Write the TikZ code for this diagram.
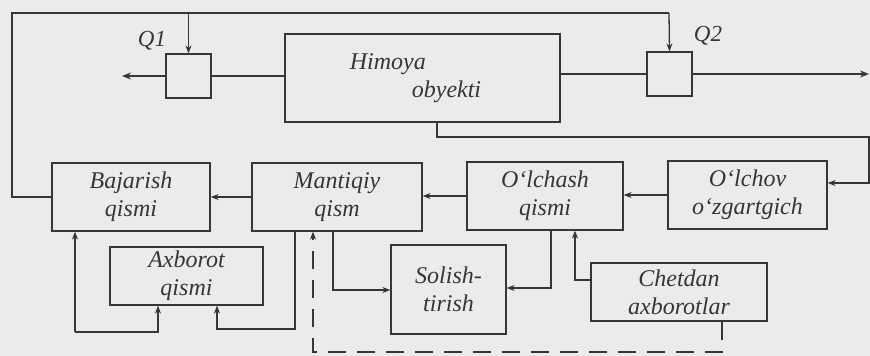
\documentclass[tikz,border=0pt]{standalone}
\usepackage{fontspec}
\setmainfont{Liberation Serif}
\usetikzlibrary{arrows.meta}
\definecolor{ink}{HTML}{363636}
\definecolor{paper}{HTML}{EBEBEB}
\begin{document}
\begin{tikzpicture}[x=1pt,y=-1pt,
  blk/.style={draw=ink,line width=1.2pt,inner sep=0pt,align=center,
    font=\fontsize{24}{28}\selectfont\itshape,text=ink},
  qlabel/.style={inner sep=0pt,font=\fontsize{23}{26}\selectfont\itshape,text=ink},
  ln/.style={draw=ink,line width=1.3pt},
  arr/.style={ln,-{Stealth[length=8pt,width=6pt]}},
  thk/.style={draw=ink,line width=2.4pt},
  thkarr/.style={thk,-{Stealth[length=9pt,width=7pt]}},
  dsh/.style={draw=ink,line width=1.8pt,dash pattern=on 18pt off 11pt},
  dsharr/.style={dsh,-{Stealth[length=8pt,width=6pt]}}]
\fill[paper] (0,0) rectangle (870,356);
\useasboundingbox (0,0) rectangle (870,356);
% boxes
\node[blk,minimum width=45pt,minimum height=44pt] (Q1) at (188.5,76) {};
\node[blk,minimum width=45pt,minimum height=44pt] (Q2) at (669.5,74) {};
\node[blk,minimum width=275pt,minimum height=88pt,align=left] (Him) at (422.5,78)
  {\hspace*{-14pt}Himoya\\\hspace*{48pt}obyekti};
\node[blk,minimum width=158pt,minimum height=68pt] (Baj) at (131,197) {Bajarish\\qismi};
\node[blk,minimum width=170pt,minimum height=68pt] (Man) at (337,197) {Mantiqiy\\qism};
\node[blk,minimum width=156pt,minimum height=68pt] (Olc) at (545,196) {O‘lchash\\qismi};
\node[blk,minimum width=159pt,minimum height=68pt] (Olv) at (747.5,195) {O‘lchov\\o‘zgartgich};
\node[blk,minimum width=153pt,minimum height=58pt] (Axb) at (186.5,276) {Axborot\\qismi};
\node[blk,minimum width=115pt,minimum height=89pt] (Sol) at (448.5,289.5) {Solish-\\tirish};
\node[blk,minimum width=176pt,minimum height=58pt] (Che) at (679,292) {Chetdan\\axborotlar};
% labels
\node[qlabel] (lq1) at (152,41) {Q1};
\node[qlabel] (lq2) at (708,36) {Q2};
% top control line
\coordinate (c1) at (12,13);
\coordinate (c2) at (669,13);
\draw[ln] (Baj.west) -| (c1) -- (c2);
\draw[arr] (c2) -- (Q2.north);
\draw[arr] (Q1.north |- c1) -- (Q1.north);
% main power line
\coordinate (out1) at (122,76);
\coordinate (out2) at (869,74);
\draw[thkarr] (Q1.west) -- (out1);
\draw[thk] (Q1.east) -- (Q1.east -| Him.west);
\draw[thk] (Q2.west -| Him.east) -- (Q2.west);
\draw[thkarr] (Q2.east) -- (out2);
% feedback from object
\coordinate (f1) at (437,137);
\coordinate (f2) at (869,137);
\draw[arr] (f1 |- Him.south) -- (f1) -- (f2) |- ([yshift=12pt]Olv.east);
% row arrows
\draw[arr] (Olv.west) -- (Olv.west -| Olc.east);
\draw[arr] (Olc.west) -- (Olc.west -| Man.east);
\draw[arr] (Man.west) -- (Man.west -| Baj.east);
% bottom links
\coordinate (b1) at (75,332);
\coordinate (b2) at (158,332);
\draw[arr] (b1) -- (b1 |- Baj.south);
\draw[arr] (b1) -- (b2) -- (b2 |- Axb.south);
\coordinate (m1) at (295,329);
\coordinate (m2) at (217,329);
\draw[arr] (m1 |- Man.south) -- (m1) -- (m2) -- (m2 |- Axb.south);
\coordinate (s1) at (333,290);
\draw[arr] (s1 |- Man.south) -- (s1) -- (s1 -| Sol.west);
\coordinate (s2) at (551,288);
\draw[arr] (s2 |- Olc.south) -- (s2) -- (s2 -| Sol.east);
\coordinate (e1) at (575,280);
\draw[arr] (e1 -| Che.west) -- (e1) -- (e1 |- Olc.south);
% dashed external info
\coordinate (d1) at (313,352);
\coordinate (d2) at (722,352);
\draw[dsharr] (d2 |- Che.south) -- (d2) -- (d1) -- (d1 |- Man.south);
\end{tikzpicture}
\end{document}
